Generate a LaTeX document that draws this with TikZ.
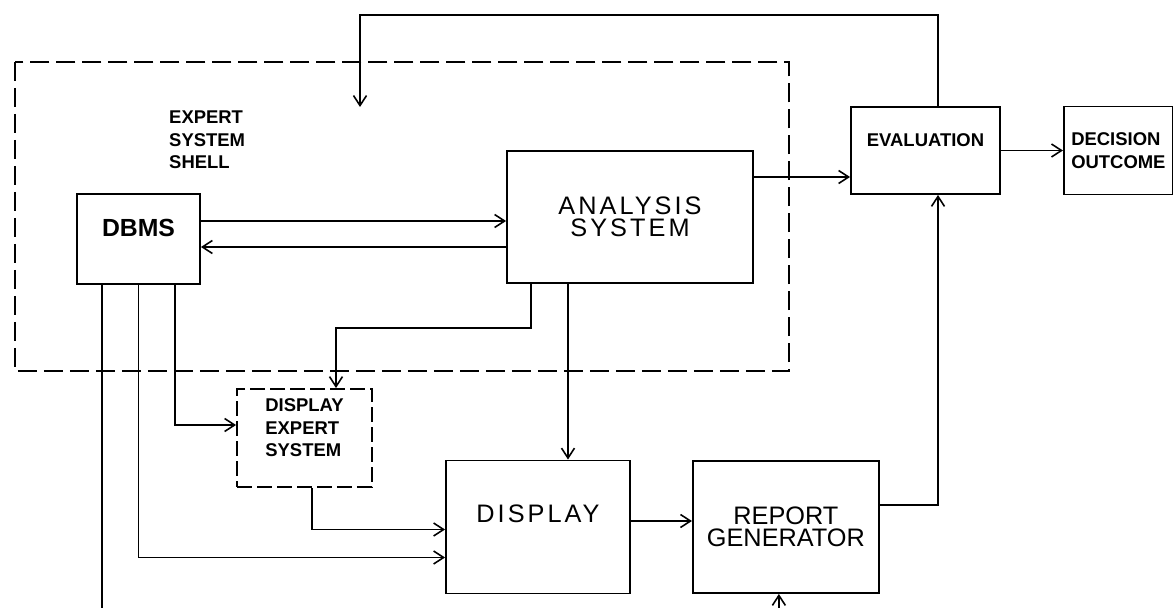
\documentclass[tikz,border=0pt]{standalone}
\usepackage{fontspec}
\setmainfont{Liberation Sans}
\newfontfamily\widefont{Liberation Sans}[LetterSpace=12]
\usetikzlibrary{arrows.meta, positioning}

\begin{document}
\begin{tikzpicture}[
    x=0.02cm, y=-0.02cm,
    >={Straight Barb[length=2mm,width=2.6mm]},
    block/.style={rectangle, draw, line width=1.1pt, inner sep=0pt, align=center},
    dblock/.style={block, dash pattern=on 0.3cm off 0.1cm},
    shell/.style={draw, line width=1.1pt, dash pattern=on 0.38cm off 0.14cm},
    bigtxt/.style={font=\fontsize{14.4}{12.8}\selectfont},
    widetxt/.style={font=\widefont\fontsize{14.4}{12.8}\selectfont},
    smalltxt/.style={font=\bfseries\fontsize{10.5}{12.8}\selectfont},
    link/.style={->, line width=0.9pt},
]
    \useasboundingbox (0,0) rectangle (1173,608);

    % Expert system shell (dashed frame)
    \draw[shell] (15,62) rectangle (789,371);
    \node[smalltxt, anchor=west, align=left] (shelltxt) at (163,140) {EXPERT\\SYSTEM\\SHELL};

    \node[block, minimum width=2.46cm, minimum height=1.8cm,
          font=\bfseries\fontsize{14.1}{16}\selectfont,
          text height=0.36cm, text depth=0.48cm] (dbms) at (138.5,239) {DBMS};
    \node[block, widetxt, minimum width=4.92cm, minimum height=2.64cm] (ana) at (630,217) {ANALYSIS\\SYSTEM};

    % Evaluation and outcome
    \node[block, smalltxt, minimum width=2.98cm, minimum height=1.74cm,
          text height=0.27cm, text depth=0.42cm] (eval) at (925.5,150.5) {EVALUATION};
    \node[block, smalltxt, align=left, minimum width=2.18cm, minimum height=1.76cm,
          right=1.24cm of eval] (dec) {DECISION\\OUTCOME};

    % Lower row
    \node[dblock, smalltxt, align=left, minimum width=2.7cm, minimum height=1.96cm,
          text height=0.74cm, text depth=0cm] (des) at (304.5,438) {DISPLAY\\EXPERT\\SYSTEM};
    \node[block, widetxt, minimum width=3.68cm, minimum height=2.66cm,
          text height=0.36cm, text depth=0.54cm] (disp) at (538,527) {DISPLAY};
    \node[block, bigtxt, minimum width=3.72cm, minimum height=2.64cm,
          right=1.22cm of disp] (rep) {REPORT\\GENERATOR};

    \coordinate (fbtip) at (360,107);
    \coordinate (botc) at (440,608.5);

    % DBMS <-> analysis
    \draw[link] ([yshift=0.36cm]dbms.east) -- ([yshift=-0.08cm]ana.west);
    \draw[link] ([yshift=-0.6cm]ana.west) -- ([yshift=-0.16cm]dbms.east);
    \draw[link] ([yshift=0.8cm]ana.east) -- ([yshift=-0.53cm]eval.west);
    \draw[link] (eval) -- (dec);

    % feedback into the shell
    \draw[link] ([xshift=0.25cm]eval.north) -- ++(0,-91) -| (fbtip);

    % DBMS outputs
    \draw[link] ([xshift=0.73cm]dbms.south) |- ([yshift=0.26cm]des.west);
    \draw[link] (dbms.south) |- ([yshift=-0.61cm]disp.west);
    \draw[link] ([xshift=-0.73cm]dbms.south) |- (botc) -| ([xshift=-0.14cm]rep.south);

    % analysis outputs
    \draw[link] ([xshift=-1.98cm]ana.south) -- ++(0,44) -| ([xshift=0.63cm]des.north);
    \draw[link] ([xshift=-1.24cm]ana.south) -- ([xshift=0.6cm]disp.north);

    \draw[link] ([xshift=0.15cm]des.south) |- ([yshift=-0.05cm]disp.west);
    \draw[link] ([yshift=0.12cm]disp.east) -- ([yshift=0.12cm]rep.west);
    \draw[link] ([yshift=0.44cm]rep.east) -| ([xshift=0.25cm]eval.south);
\end{tikzpicture}
\end{document}
